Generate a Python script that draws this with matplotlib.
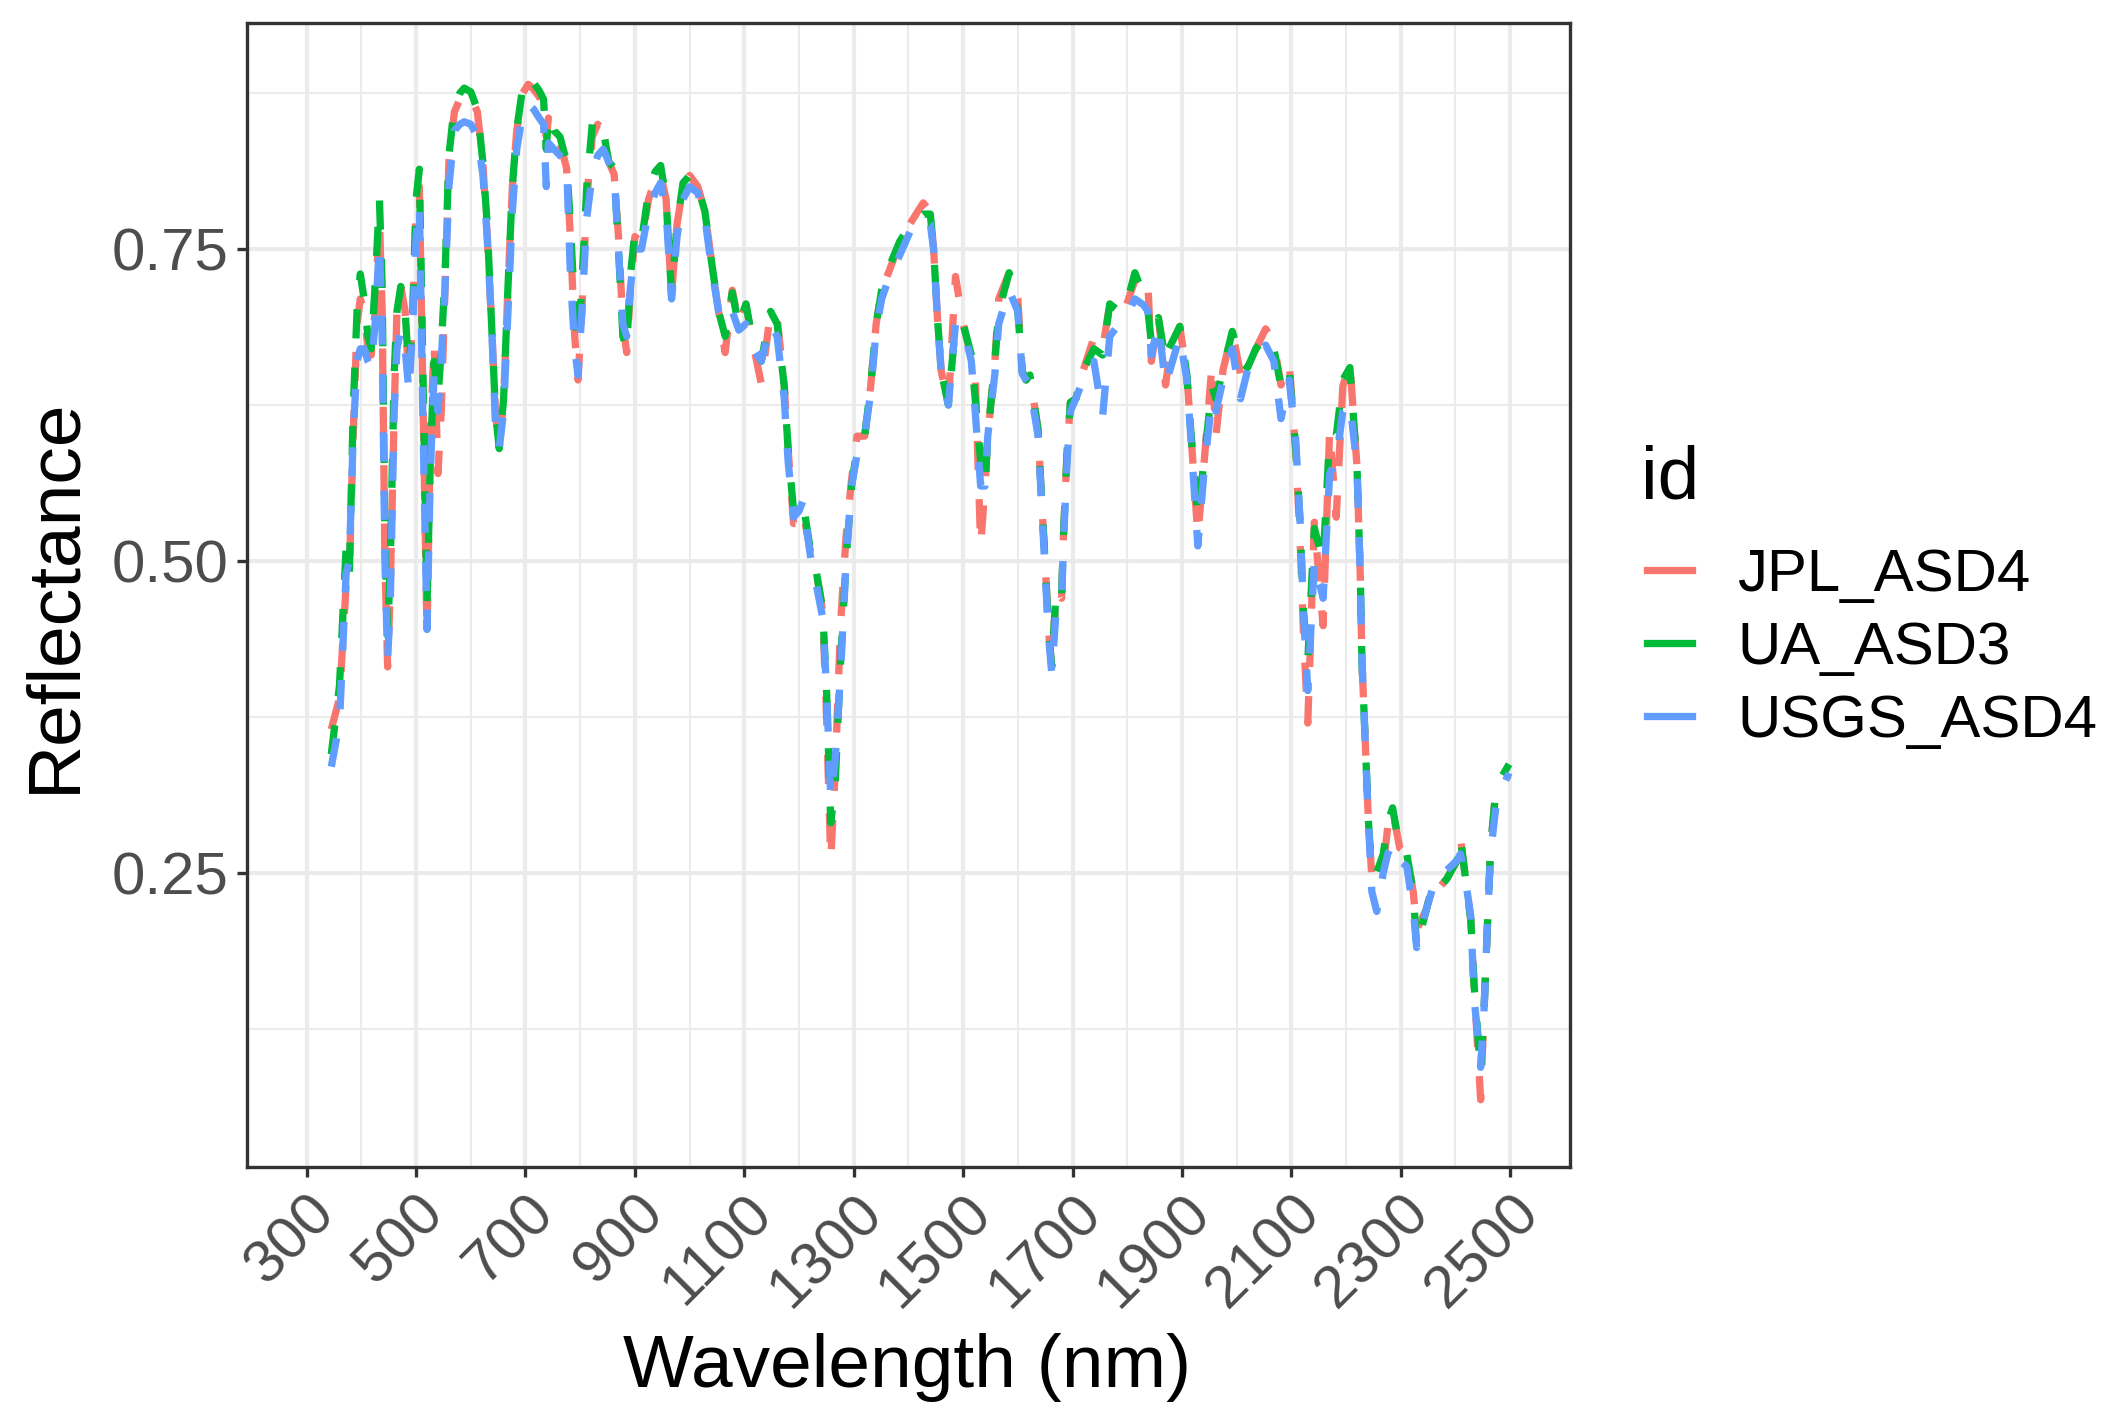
import matplotlib
matplotlib.use("Agg")
import matplotlib.pyplot as plt
from matplotlib.lines import Line2D

plt.rcParams['font.family'] = ['Liberation Sans', 'DejaVu Sans']

# wavelength grid (nm) shared by the three spectra
wavelength = [345, 360, 372, 378, 385, 392, 398, 405, 412, 418, 425, 433, 438, 443, 448,
              453, 460, 465, 472, 480, 487, 494, 500, 506, 513, 520, 526, 533, 540, 546,
              553, 560, 570, 580, 588, 600, 612, 622, 630, 638, 645, 652, 660, 668, 676,
              684, 695, 705, 715, 725, 733, 738, 742, 752, 763, 775, 782, 790, 796, 803,
              812, 822, 832, 842, 852, 862, 870, 878, 885, 892, 900, 912, 925, 937, 947,
              957, 967, 977, 988, 1000, 1015, 1028, 1040, 1053, 1065, 1078, 1090, 1103, 1116, 1131,
              1148, 1160, 1173, 1180, 1190, 1200, 1207, 1222, 1232, 1243, 1250, 1258, 1266, 1276, 1286,
              1296, 1306, 1320, 1331, 1341, 1351, 1367, 1384, 1404, 1427, 1440, 1446, 1453, 1460, 1473,
              1486, 1500, 1515, 1522, 1532, 1540, 1545, 1558, 1565, 1584, 1600, 1608, 1615, 1622, 1637,
              1643, 1650, 1656, 1662, 1670, 1680, 1683, 1690, 1696, 1706, 1719, 1739, 1755, 1768, 1785,
              1797, 1814, 1830, 1838, 1844, 1857, 1870, 1876, 1896, 1909, 1916, 1929, 1942, 1955, 1962,
              1975, 1992, 2007, 2020, 2035, 2053, 2068, 2081, 2096, 2108, 2116, 2122, 2130, 2142, 2158,
              2170, 2182, 2194, 2207, 2220, 2226, 2229, 2235, 2241, 2247, 2256, 2268, 2276, 2285, 2298,
              2311, 2323, 2329, 2347, 2360, 2372, 2384, 2403, 2409, 2418, 2428, 2434, 2446, 2452, 2458,
              2464, 2473, 2482, 2498]

jpl_asd4 = [0.365, 0.39, 0.48, 0.49, 0.60, 0.69, 0.71, 0.70, 0.67, 0.665, 0.70, 0.775, 0.70, 0.50, 0.415,
            0.48, 0.62, 0.70, 0.72, 0.70, 0.64, 0.70, 0.78, 0.80, 0.62, 0.44, 0.60, 0.675, 0.57, 0.62,
            0.72, 0.82, 0.86, 0.87, 0.875, 0.872, 0.86, 0.82, 0.76, 0.69, 0.62, 0.59, 0.63, 0.72, 0.80,
            0.845, 0.875, 0.882, 0.878, 0.872, 0.865, 0.84, 0.855, 0.84, 0.835, 0.815, 0.76, 0.68, 0.645, 0.70,
            0.79, 0.84, 0.85, 0.845, 0.82, 0.81, 0.76, 0.69, 0.667, 0.72, 0.76, 0.755, 0.79, 0.805, 0.81,
            0.79, 0.713, 0.77, 0.80, 0.809, 0.80, 0.78, 0.74, 0.70, 0.667, 0.717, 0.69, 0.705, 0.674, 0.642,
            0.70, 0.695, 0.64, 0.59, 0.53, 0.53, 0.54, 0.505, 0.49, 0.46, 0.38, 0.26, 0.33, 0.45, 0.52,
            0.565, 0.60, 0.60, 0.64, 0.69, 0.717, 0.735, 0.756, 0.771, 0.787, 0.78, 0.75, 0.695, 0.652, 0.625,
            0.728, 0.69, 0.663, 0.65, 0.512, 0.56, 0.60, 0.66, 0.71, 0.731, 0.71, 0.652, 0.645, 0.649, 0.605,
            0.552, 0.498, 0.444, 0.415, 0.476, 0.47, 0.516, 0.588, 0.627, 0.63, 0.652, 0.679, 0.67, 0.706, 0.70,
            0.703, 0.725, 0.713, 0.72, 0.66, 0.695, 0.641, 0.66, 0.688, 0.649, 0.605, 0.52, 0.587, 0.658, 0.60,
            0.653, 0.684, 0.65, 0.652, 0.67, 0.686, 0.675, 0.641, 0.659, 0.587, 0.516, 0.444, 0.37, 0.531, 0.448,
            0.605, 0.535, 0.64, 0.658, 0.575, 0.487, 0.42, 0.356, 0.29, 0.247, 0.25, 0.255, 0.286, 0.30, 0.27,
            0.265, 0.234, 0.204, 0.221, 0.243, 0.239, 0.245, 0.26, 0.278, 0.247, 0.212, 0.16, 0.068, 0.138, 0.204,
            0.269, 0.313, 0.322, 0.328]

ua_asd3 = [0.345, 0.40, 0.51, 0.49, 0.62, 0.70, 0.73, 0.71, 0.68, 0.67, 0.72, 0.79, 0.72, 0.52, 0.44,
           0.50, 0.65, 0.70, 0.72, 0.70, 0.65, 0.70, 0.79, 0.814, 0.64, 0.465, 0.58, 0.66, 0.63, 0.67,
           0.73, 0.825, 0.865, 0.875, 0.879, 0.876, 0.862, 0.82, 0.77, 0.69, 0.62, 0.59, 0.63, 0.72, 0.80,
           0.846, 0.88, 0.888, 0.883, 0.877, 0.87, 0.83, 0.857, 0.845, 0.84, 0.82, 0.77, 0.70, 0.674, 0.72,
           0.80, 0.85, 0.854, 0.846, 0.82, 0.815, 0.75, 0.68, 0.67, 0.73, 0.763, 0.756, 0.796, 0.812, 0.817,
           0.79, 0.713, 0.77, 0.803, 0.809, 0.80, 0.78, 0.74, 0.70, 0.68, 0.715, 0.688, 0.706, 0.674, 0.66,
           0.70, 0.69, 0.64, 0.59, 0.54, 0.545, 0.548, 0.505, 0.49, 0.462, 0.40, 0.29, 0.32, 0.42, 0.50,
           0.56, 0.59, 0.60, 0.64, 0.69, 0.717, 0.738, 0.756, 0.77, 0.778, 0.778, 0.75, 0.695, 0.652, 0.625,
           0.69, 0.69, 0.665, 0.63, 0.58, 0.56, 0.60, 0.66, 0.70, 0.731, 0.70, 0.652, 0.645, 0.649, 0.605,
           0.552, 0.498, 0.444, 0.415, 0.476, 0.47, 0.516, 0.588, 0.627, 0.63, 0.652, 0.67, 0.665, 0.706, 0.70,
           0.703, 0.731, 0.713, 0.70, 0.675, 0.695, 0.66, 0.67, 0.688, 0.649, 0.605, 0.535, 0.587, 0.64, 0.63,
           0.653, 0.684, 0.66, 0.655, 0.67, 0.68, 0.67, 0.64, 0.653, 0.59, 0.53, 0.46, 0.42, 0.526, 0.50,
           0.60, 0.60, 0.645, 0.655, 0.575, 0.487, 0.42, 0.356, 0.29, 0.25, 0.25, 0.265, 0.29, 0.302, 0.27,
           0.265, 0.234, 0.19, 0.221, 0.243, 0.239, 0.245, 0.26, 0.278, 0.247, 0.212, 0.16, 0.09, 0.138, 0.204,
           0.269, 0.313, 0.325, 0.337]

usgs_asd4 = [0.335, 0.37, 0.49, 0.50, 0.60, 0.66, 0.67, 0.67, 0.66, 0.655, 0.69, 0.755, 0.68, 0.50, 0.42,
             0.47, 0.62, 0.67, 0.685, 0.67, 0.635, 0.69, 0.76, 0.785, 0.60, 0.445, 0.57, 0.65, 0.62, 0.66,
             0.72, 0.80, 0.845, 0.85, 0.852, 0.85, 0.84, 0.81, 0.76, 0.69, 0.61, 0.59, 0.62, 0.70, 0.78,
             0.83, 0.86, 0.866, 0.862, 0.855, 0.85, 0.80, 0.835, 0.83, 0.825, 0.82, 0.73, 0.67, 0.649, 0.70,
             0.775, 0.81, 0.825, 0.83, 0.82, 0.81, 0.75, 0.69, 0.68, 0.72, 0.75, 0.75, 0.78, 0.795, 0.803,
             0.78, 0.71, 0.76, 0.79, 0.80, 0.795, 0.775, 0.735, 0.70, 0.69, 0.70, 0.685, 0.69, 0.67, 0.66,
             0.69, 0.68, 0.63, 0.58, 0.535, 0.54, 0.548, 0.50, 0.48, 0.455, 0.40, 0.31, 0.34, 0.41, 0.50,
             0.56, 0.585, 0.60, 0.635, 0.685, 0.71, 0.73, 0.745, 0.765, 0.775, 0.77, 0.75, 0.695, 0.65, 0.625,
             0.69, 0.688, 0.66, 0.62, 0.56, 0.56, 0.60, 0.65, 0.69, 0.717, 0.70, 0.65, 0.645, 0.64, 0.60,
             0.55, 0.49, 0.44, 0.41, 0.46, 0.465, 0.51, 0.58, 0.62, 0.63, 0.645, 0.66, 0.616, 0.68, 0.69,
             0.695, 0.71, 0.705, 0.70, 0.665, 0.69, 0.641, 0.65, 0.68, 0.645, 0.60, 0.512, 0.58, 0.63, 0.62,
             0.645, 0.67, 0.63, 0.653, 0.665, 0.673, 0.66, 0.614, 0.645, 0.597, 0.531, 0.46, 0.396, 0.50, 0.47,
             0.57, 0.58, 0.62, 0.627, 0.575, 0.487, 0.42, 0.356, 0.29, 0.235, 0.219, 0.25, 0.265, 0.273, 0.26,
             0.255, 0.22, 0.19, 0.221, 0.24, 0.24, 0.252, 0.26, 0.265, 0.245, 0.215, 0.15, 0.094, 0.138, 0.204,
             0.265, 0.30, 0.315, 0.33]

series = [('JPL_ASD4', jpl_asd4, '#F8766D'),
          ('UA_ASD3', ua_asd3, '#00BA38'),
          ('USGS_ASD4', usgs_asd4, '#619CFF')]

fig = plt.figure(figsize=(2125 / 300, 1417 / 300), dpi=300)
ax = fig.add_axes([0.116, 0.1766, 0.623, 0.807])

for name, vals, col in series:
    ax.plot(wavelength, vals, color=col, linewidth=1.75, dashes=(4, 4),
            solid_capstyle='butt', dash_capstyle='butt', label=name)

ax.set_xlim(190, 2610)
ax.set_ylim(0.0143, 0.931)
ax.set_xticks(range(300, 2501, 200))
ax.set_xticks(range(400, 2401, 200), minor=True)
ax.set_yticks([0.25, 0.5, 0.75])
ax.set_yticklabels(['0.25', '0.50', '0.75'])
ax.set_yticks([0.125, 0.375, 0.625, 0.875], minor=True)

ax.grid(which='major', color='#EBEBEB', linewidth=1.0)
ax.grid(which='minor', color='#EBEBEB', linewidth=0.5)
ax.set_axisbelow(True)
for sp in ax.spines.values():
    sp.set_color('#333333')
    sp.set_linewidth(0.8)

ax.tick_params(which='major', length=2.3, width=0.8, color='#333333',
               labelsize=14.4, labelcolor='#4D4D4D', pad=2)
ax.tick_params(which='minor', length=0)
for lbl in ax.get_xticklabels():
    lbl.set_rotation(45)
    lbl.set_ha('right')
    lbl.set_va('top')
    lbl.set_rotation_mode('anchor')

fig.text(0.026, 0.58, 'Reflectance', rotation=90, ha='center', va='center', fontsize=18)
fig.text(0.427, 0.035, 'Wavelength (nm)', ha='center', va='center', fontsize=18)

# legend: title as its own text, keys + labels below
fig.text(0.772, 0.662, 'id', ha='left', va='center', fontsize=18)
handles = [Line2D([], [], color=c, linewidth=1.75) for _, _, c in series]
fig.legend(handles, [n for n, _, _ in series], loc='upper left',
           bbox_to_anchor=(0.775, 0.613), frameon=False, fontsize=14.4,
           borderpad=0, borderaxespad=0, handlelength=0.75, handletextpad=0.75,
           labelspacing=0.3)

fig.savefig('out.png', dpi=300)
